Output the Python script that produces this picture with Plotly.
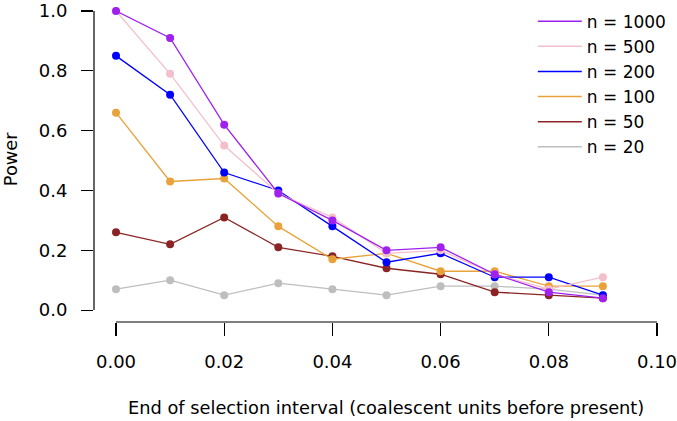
import plotly.graph_objects as go

x_vals = [0.00, 0.01, 0.02, 0.03, 0.04, 0.05, 0.06, 0.07, 0.08, 0.09]
series_names = ["n = 1000", "n = 500", "n = 200", "n = 100", "n = 50", "n = 20"]
n1000 = [1.00, 0.91, 0.62, 0.39, 0.30, 0.20, 0.21, 0.12, 0.06, 0.04]
n500 = [1.00, 0.79, 0.55, 0.39, 0.31, 0.19, 0.20, 0.12, 0.07, 0.11]
n200 = [0.85, 0.72, 0.46, 0.40, 0.28, 0.16, 0.19, 0.11, 0.11, 0.05]
n100 = [0.66, 0.43, 0.44, 0.28, 0.17, 0.19, 0.13, 0.13, 0.08, 0.08]
n50 = [0.26, 0.22, 0.31, 0.21, 0.18, 0.14, 0.12, 0.06, 0.05, 0.04]
n20 = [0.07, 0.10, 0.05, 0.09, 0.07, 0.05, 0.08, 0.08, 0.07, 0.05]
series_values = [n1000, n500, n200, n100, n50, n20]
colors = ["#A020F0", "#F4BFCC", "#0000FF", "#E9A23A", "#8B2525", "#BEBEBE"]

x_ticks = [0.00, 0.02, 0.04, 0.06, 0.08, 0.10]
x_ticktext = ["0.00", "0.02", "0.04", "0.06", "0.08", "0.10"]
y_ticks = [0.0, 0.2, 0.4, 0.6, 0.8, 1.0]
y_ticktext = ["0.0", "0.2", "0.4", "0.6", "0.8", "1.0"]

FONT = "DejaVu Sans, Verdana, sans-serif"
TICK_FS = 18
TITLE_FS = 17.8
LEG_FS = 17

fig = go.Figure()

# draw in reverse order so n=1000 is on top
for name, vals, col in reversed(list(zip(series_names, series_values, colors))):
    fig.add_trace(go.Scatter(
        x=x_vals, y=vals, mode="lines+markers", name=name,
        line=dict(color=col, width=1.3),
        marker=dict(color=col, size=8),
        showlegend=False, cliponaxis=False,
    ))

# legend-only line entries
for i, (name, col) in enumerate(zip(series_names, colors)):
    fig.add_trace(go.Scatter(
        x=[None], y=[None], mode="lines", name=name,
        line=dict(color=col, width=1.5),
        legendgroup="g%d" % i, showlegend=True,
    ))

fig.update_layout(
    template="none",
    width=677, height=421,
    margin=dict(l=94, r=20, t=11, b=99, autoexpand=False),
    paper_bgcolor="white", plot_bgcolor="white",
    font=dict(family=FONT, size=TICK_FS, color="black"),
    showlegend=True,
    hovermode=False,
    legend=dict(
        x=0.7794, y=1.0235, xanchor="left", yanchor="top",
        bgcolor="rgba(0,0,0,0)", borderwidth=0,
        font=dict(family=FONT, size=LEG_FS, color="black"),
        traceorder="grouped", tracegroupgap=0, itemwidth=44,
    ),
    xaxis=dict(
        range=[-0.00407, 0.10], showgrid=False, zeroline=False, showline=False,
        automargin=False, ticklabeloverflow="allow",
        tickmode="array", tickvals=x_ticks, ticktext=x_ticktext,
        ticks="outside", ticklen=13, tickwidth=1.2, tickcolor="black",
        ticklabelstandoff=10, tickfont=dict(family=FONT, size=TICK_FS),
    ),
    yaxis=dict(
        range=[-0.0397, 1.0], showgrid=False, zeroline=False, showline=False,
        automargin=False, ticklabeloverflow="allow",
        tickmode="array", tickvals=y_ticks, ticktext=y_ticktext,
        ticks="outside", ticklen=12, tickwidth=1.2, tickcolor="black",
        ticklabelstandoff=10, tickfont=dict(family=FONT, size=TICK_FS),
    ),
    shapes=[
        dict(type="line", xref="x", yref="paper", x0=x_ticks[0], x1=x_ticks[-1], y0=0, y1=0,
             line=dict(color="black", width=1.2)),
        dict(type="line", xref="paper", yref="y", x0=0, x1=0, y0=y_ticks[0], y1=y_ticks[-1],
             line=dict(color="black", width=1.2)),
    ],
    annotations=[
        dict(text="Power", textangle=-90, xref="paper", yref="paper",
             x=-0.149, y=0.524, xanchor="center", yanchor="middle", showarrow=False,
             font=dict(family=FONT, size=TITLE_FS)),
        dict(text="End of selection interval (coalescent units before present)",
             xref="paper", yref="paper", x=0.5187, y=-0.2765,
             xanchor="center", yanchor="middle", showarrow=False,
             font=dict(family=FONT, size=TITLE_FS)),
    ],
)

fig.write_html(
    "out.html",
    config={"displayModeBar": False, "staticPlot": True},
    post_script="document.body.style.margin='0';document.body.style.overflow='hidden';",
)
